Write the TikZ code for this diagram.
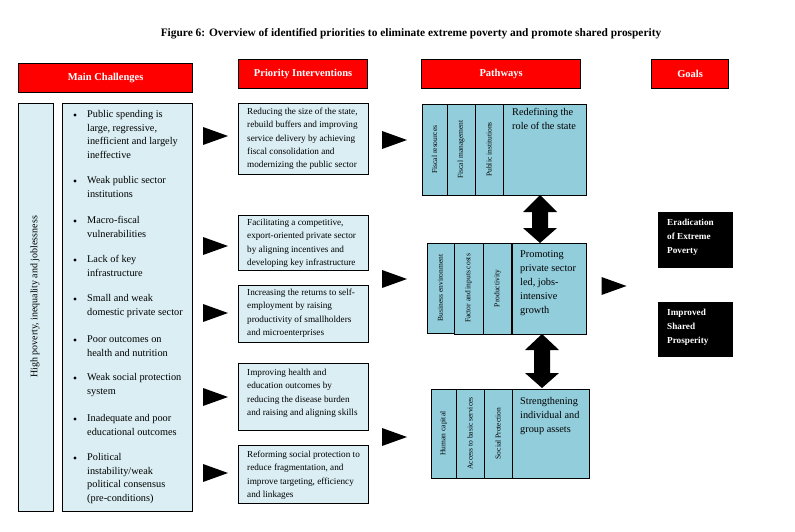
\documentclass[tikz,border=0pt]{standalone}
\usepackage{fontspec}
\setmainfont{Liberation Serif}
\definecolor{redhd}{HTML}{FF0000}
\definecolor{lightb}{HTML}{DAEEF3}
\definecolor{pathb}{HTML}{92CDDC}
\begin{document}
\begin{tikzpicture}[x=1pt,y=-1pt,
 hdr/.style={draw=black, line width=1.2pt, fill=redhd, text=white, font=\bfseries\fontsize{10.5}{12}\selectfont, inner sep=0, anchor=north west},
 cbox/.style={draw=black, line width=0.9pt, fill=lightb, inner sep=0, anchor=north west},
 ctext/.style={font=\fontsize{10.3}{13.5}\selectfont, align=left, anchor=north west, inner sep=0},
 bul/.style={circle, fill=black, inner sep=0, minimum size=3.4pt},
 itext/.style={font=\fontsize{9.2}{13.3}\selectfont, align=left, anchor=north west, inner sep=0},
 sub/.style={draw=black, line width=0.9pt, fill=pathb, inner sep=0, rotate=90, font=\fontsize{7.5}{9}\selectfont},
 pbox/.style={draw=black, line width=0.9pt, fill=pathb, inner sep=0, anchor=north west},
 ptext/.style={font=\fontsize{10.3}{14}\selectfont, align=left, anchor=north west, inner sep=0},
 gbox/.style={fill=black, inner sep=0, anchor=north west},
 gtext/.style={text=white, font=\bfseries\fontsize{9.2}{14}\selectfont, align=left, anchor=north west, inner sep=0},
 rtri/.pic={\fill (-12.5,-9) -- (12.5,0) -- (-12.5,9) -- cycle;},
]
\useasboundingbox[fill=white] (0,0) rectangle (795,532);

% title
\node[font=\bfseries\fontsize{11.4}{13}\selectfont, inner sep=0] (title) at (411,34) {Figure 6: Overview of identified priorities to eliminate extreme poverty and promote shared prosperity};

% headers
\node[hdr, minimum width=174, minimum height=29] (h1) at (18,63) {Main Challenges};
\node[hdr, minimum width=129, minimum height=29] (h2) at (238,59) {Priority Interventions};
\node[hdr, minimum width=159, minimum height=29] (h3) at (421,59) {Pathways};
\node[hdr, minimum width=77, minimum height=29] (h4) at (651,59) {Goals};

% challenges
\node[cbox, minimum width=35, minimum height=408] (lbox) at (18,103) {};
\node[rotate=90, font=\fontsize{10}{12}\selectfont, inner sep=0] (ltext) at (35,297) {High poverty, inequality and joblessness};
\node[cbox, minimum width=130, minimum height=408] (cbx) at (62,103) {};

\node[bul] (b1) at (75,115) {};
\node[ctext] (c1) at (87,108) {\strut Public spending is\\large, regressive,\\inefficient and largely\\ineffective};
\node[bul] (b2) at (75,181) {};
\node[ctext] (c2) at (87,174) {\strut Weak public sector\\institutions};
\node[bul] (b3) at (75,221) {};
\node[ctext] (c3) at (87,214) {\strut Macro-fiscal\\vulnerabilities};
\node[bul] (b4) at (75,260) {};
\node[ctext] (c4) at (87,253) {\strut Lack of key\\infrastructure};
\node[bul] (b5) at (75,299) {};
\node[ctext] (c5) at (87,292) {\strut Small and weak\\domestic private sector};
\node[bul] (b6) at (75,340) {};
\node[ctext] (c6) at (87,333) {\strut Poor outcomes on\\health and nutrition};
\node[bul] (b7) at (75,378) {};
\node[ctext] (c7) at (87,371) {\strut Weak social protection\\system};
\node[bul] (b8) at (75,419) {};
\node[ctext] (c8) at (87,412) {\strut Inadequate and poor\\educational outcomes};
\node[bul] (b9) at (75,458) {};
\node[ctext] (c9) at (87,451) {\strut Political\\instability/weak\\political consensus\\(pre-conditions)};

% interventions
\node[cbox, minimum width=130, minimum height=71] (i1) at (238,103) {};
\node[itext] (it1) at (247,105) {\strut Reducing the size of the state,\\rebuild buffers and improving\\service delivery by achieving\\fiscal consolidation and\\modernizing the public sector};
\node[cbox, minimum width=130, minimum height=55] (i2) at (238,215) {};
\node[itext] (it2) at (247,216) {\strut Facilitating a competitive,\\export-oriented private sector\\by aligning incentives and\\developing key infrastructure};
\node[cbox, minimum width=130, minimum height=57] (i3) at (238,285) {};
\node[itext] (it3) at (247,286) {\strut Increasing the returns to self-\\employment by raising\\productivity of smallholders\\and microenterprises};
\node[cbox, minimum width=130, minimum height=67] (i4) at (238,363) {};
\node[itext] (it4) at (247,366) {\strut Improving health and\\education outcomes by\\reducing the disease burden\\and raising and aligning skills};
\node[cbox, minimum width=130, minimum height=58] (i5) at (238,445) {};
\node[itext] (it5) at (247,448) {\strut Reforming social protection to\\reduce fragmentation, and\\improve targeting, efficiency\\and linkages};

% triangles
\pic at (215.5,136) {rtri};
\pic at (215.5,246) {rtri};
\pic at (215.5,313) {rtri};
\pic at (215.5,397) {rtri};
\pic at (215.5,473) {rtri};
\pic at (394.5,140) {rtri};
\pic at (394.5,279) {rtri};
\pic at (394.5,437) {rtri};
\pic at (614,286) {rtri};

% pathway A
\node[sub, minimum width=91, minimum height=25] (a1) at (434.5,149.5) {Fiscal resources};
\node[sub, minimum width=91, minimum height=28] (a2) at (461,149.5) {Fiscal management};
\node[sub, minimum width=91, minimum height=28] (a3) at (489,149.5) {Public institutions};
\node[pbox, minimum width=83, minimum height=91] (am) at (503,104) {};
\node[ptext] (at) at (512,105.5) {\strut Redefining the\\role of the state};

% pathway B
\node[sub, minimum width=90, minimum height=27] (b1p) at (440.5,288) {Business environment};
\node[sub, minimum width=91, minimum height=29] (b2p) at (468.5,288.5) {Factor and inputs costs};
\node[sub, minimum width=91, minimum height=29] (b3p) at (497.5,288.5) {Productivity};
\node[pbox, minimum width=74, minimum height=91] (bm) at (512,243) {};
\node[ptext] (bt) at (520,247.5) {\strut Promoting\\private sector\\led, jobs-\\intensive\\growth};

% pathway C
\node[sub, minimum width=89, minimum height=25] (c1p) at (443.5,433.5) {Human capital};
\node[sub, minimum width=89, minimum height=28] (c2p) at (470,433.5) {Access to basic services};
\node[sub, minimum width=89, minimum height=28] (c3p) at (498,433.5) {Social Protection};
\node[pbox, minimum width=77, minimum height=89] (cm) at (512,389) {};
\node[ptext] (ct) at (520,394.5) {\strut Strengthening\\individual and\\group assets};

\draw[line width=1.4pt] (bm.north west) -- (bm.south west);
\draw[line width=1.4pt] (c2p.south west) -- (c2p.south east);

% double arrows
\fill (540,195) -- (557,212) -- (548,212) -- (548,228) -- (557,228) -- (540,243) -- (523,228) -- (532,228) -- (532,212) -- (523,212) -- cycle;
\fill (542,334) -- (559,350) -- (550,350) -- (550,373) -- (559,373) -- (542,388) -- (525,373) -- (534,373) -- (534,350) -- (525,350) -- cycle;

% goals
\node[gbox, minimum width=75, minimum height=56] (g1) at (658,212) {};
\node[gtext] (gt1) at (667,215) {\strut Eradication\\of Extreme\\Poverty};
\node[gbox, minimum width=75, minimum height=55] (g2) at (658,302) {};
\node[gtext] (gt2) at (667,305) {\strut Improved\\Shared\\Prosperity};
\end{tikzpicture}
\end{document}
